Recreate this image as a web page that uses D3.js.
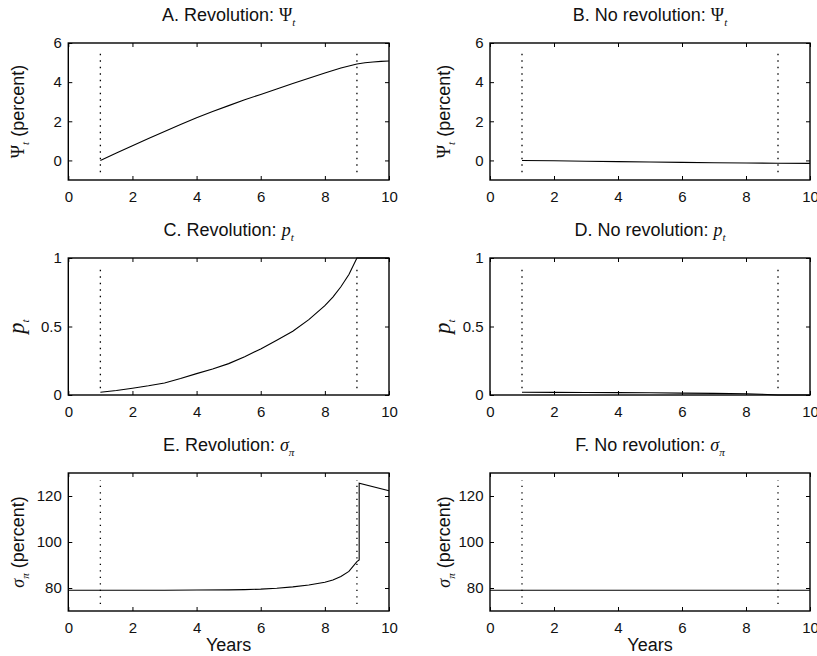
<!DOCTYPE html>
<html>
<head>
<meta charset="utf-8">
<script src="https://cdn.jsdelivr.net/npm/d3@7"></script>
<style>
  html, body { margin: 0; padding: 0; background: #fff; }
  svg { display: block; }
</style>
</head>
<body>
<svg id="chart" width="817" height="656"></svg>
<script>
// ---------------- DATA ----------------
const xTicks = [0, 2, 4, 6, 8, 10];
const markerYears = [1, 9];            // dotted vertical lines

// Panel A: Revolution, Psi_t (percent)
const yearsA = [1, 1.5, 2, 2.5, 3, 3.5, 4, 4.5, 5, 5.5, 6, 6.5, 7, 7.5, 8, 8.5, 9, 9.25, 9.5, 9.75, 10];
const psiRev = [0, 0.38, 0.75, 1.12, 1.48, 1.83, 2.18, 2.5, 2.8, 3.1, 3.37, 3.65, 3.93, 4.2, 4.47, 4.72, 4.93, 4.99, 5.03, 5.06, 5.08];

// Panel B: No revolution, Psi_t (percent)
const yearsB = [1, 2, 3, 4, 5, 6, 7, 8, 9, 10];
const psiNoRev = [0, -0.02, -0.04, -0.06, -0.08, -0.10, -0.115, -0.13, -0.145, -0.15];

// Panel C: Revolution, p_t
const yearsC = [1, 1.5, 2, 2.5, 3, 3.5, 4, 4.5, 5, 5.5, 6, 6.5, 7, 7.5, 8, 8.25, 8.5, 8.75, 9, 9.5, 10];
const pRev = [0.02, 0.033, 0.049, 0.067, 0.088, 0.12, 0.156, 0.19, 0.229, 0.28, 0.336, 0.40, 0.465, 0.55, 0.652, 0.715, 0.79, 0.88, 1.0, 1.0, 1.0];

// Panel D: No revolution, p_t
const yearsD = [1, 2, 3, 4, 5, 6, 7, 8, 8.5, 9, 10];
const pNoRev = [0.02, 0.019, 0.018, 0.017, 0.016, 0.014, 0.012, 0.009, 0.005, 0.0, 0.0];

// Panel E: Revolution, sigma_pi (percent)
const yearsE = [0, 1, 2, 3, 4, 5, 5.5, 6, 6.5, 7, 7.5, 8, 8.25, 8.5, 8.75, 9, 9.07, 9.07, 10];
const sigmaRev = [79, 79, 79, 79, 79.1, 79.2, 79.3, 79.5, 79.9, 80.5, 81.3, 82.5, 83.5, 85, 87.2, 91.5, 92.2, 125.6, 122.3];

// Panel F: No revolution, sigma_pi (percent)
const yearsF = [0, 2, 4, 6, 8, 9, 10];
const sigmaNoRev = [79, 79, 79, 79, 79, 79, 79];

// Y domains / ticks
const yDomainPsi = [-1, 6],  yTicksPsi = [0, 2, 4, 6];
const yDomainP = [0, 1],     yTicksP = [0, 0.5, 1];
const yDomainSig = [70, 130], yTicksSig = [80, 100, 120];

// Extents of the dotted marker lines (data units)
const markerExtentPsi = [-0.6, 5.65];
const markerExtentP = [0.05, 0.95];
const markerExtentSig = [73, 127];

// Texts
const titles = [
  [["A. Revolution: ", "sans"], ["Ψ", "serif"], ["t", "it", "sub"]],
  [["B. No revolution: ", "sans"], ["Ψ", "serif"], ["t", "it", "sub"]],
  [["C. Revolution: ", "sans"], ["p", "it"], ["t", "it", "sub"]],
  [["D. No revolution: ", "sans"], ["p", "it"], ["t", "it", "sub"]],
  [["E. Revolution: ", "sans"], ["σ", "it"], ["π", "it", "sub"]],
  [["F. No revolution: ", "sans"], ["σ", "it"], ["π", "it", "sub"]]
];
const yLabelPsi = [["Ψ", "serif"], ["t", "it", "sub"], [" (percent)", "sans"]];
const yLabelP = [["p", "it", "big"], ["t", "it", "sub"]];
const yLabelSig = [["σ", "it"], ["π", "it", "sub"], [" (percent)", "sans"]];
const xLabelText = "Years";

// ---------------- LAYOUT ----------------
const cols = [{x0: 68.3, x1: 389, labelOff: 50}, {x0: 490, x1: 810, labelOff: 46}];
const rows = [{y0: 43, y1: 180}, {y0: 258, y1: 395}, {y0: 473, y1: 611}];
const SANS = "Liberation Sans, Arial, Helvetica, sans-serif";
const SERIF = "Liberation Serif, Times New Roman, serif";
const TICK_FS = 15, TITLE_FS = 18;

const panels = [
  {row: 0, col: 0, xs: yearsA, ys: psiRev, dom: yDomainPsi, ticks: yTicksPsi, mk: markerExtentPsi, title: titles[0], ylab: yLabelPsi},
  {row: 0, col: 1, xs: yearsB, ys: psiNoRev, dom: yDomainPsi, ticks: yTicksPsi, mk: markerExtentPsi, title: titles[1], ylab: yLabelPsi},
  {row: 1, col: 0, xs: yearsC, ys: pRev, dom: yDomainP, ticks: yTicksP, mk: markerExtentP, title: titles[2], ylab: yLabelP},
  {row: 1, col: 1, xs: yearsD, ys: pNoRev, dom: yDomainP, ticks: yTicksP, mk: markerExtentP, title: titles[3], ylab: yLabelP},
  {row: 2, col: 0, xs: yearsE, ys: sigmaRev, dom: yDomainSig, ticks: yTicksSig, mk: markerExtentSig, title: titles[4], ylab: yLabelSig, xlab: true},
  {row: 2, col: 1, xs: yearsF, ys: sigmaNoRev, dom: yDomainSig, ticks: yTicksSig, mk: markerExtentSig, title: titles[5], ylab: yLabelSig, xlab: true}
];

const svg = d3.select("#chart");

function richText(sel, parts, fs) {
  let shifted = 0;
  parts.forEach(([t, f, mod]) => {
    const ts = sel.append("tspan").text(t);
    let size = fs;
    if (f === "sans") ts.attr("font-family", SANS);
    else if (f === "serif") ts.attr("font-family", SERIF);
    else ts.attr("font-family", SERIF).attr("font-style", "italic");
    if (mod === "sub") size = fs * 0.62;
    if (mod === "big") size = fs * 1.25;
    ts.attr("font-size", size);
    const want = mod === "sub" ? fs * 0.3 : 0;
    if (want !== shifted) { ts.attr("dy", want - shifted); shifted = want; }
  });
}

panels.forEach(p => {
  const c = cols[p.col], r = rows[p.row];
  const x = d3.scaleLinear().domain([0, 10]).range([c.x0, c.x1]);
  const y = d3.scaleLinear().domain(p.dom).range([r.y1, r.y0]);
  const g = svg.append("g");

  // axes with inward ticks
  const ax = g.append("g").attr("transform", `translate(0,${r.y1})`)
    .call(d3.axisBottom(x).tickValues(xTicks).tickSize(-4).tickPadding(11).tickFormat(d3.format("d")));
  const axT = g.append("g").attr("transform", `translate(0,${r.y0})`)
    .call(d3.axisTop(x).tickValues(xTicks).tickSize(-4).tickFormat(""));
  const ay = g.append("g").attr("transform", `translate(${c.x0},0)`)
    .call(d3.axisLeft(y).tickValues(p.ticks).tickSize(-4).tickPadding(6.5).tickFormat(d => String(d)));
  const ayR = g.append("g").attr("transform", `translate(${c.x1},0)`)
    .call(d3.axisRight(y).tickValues(p.ticks).tickSize(-4).tickFormat(""));
  [ax, axT, ay, ayR].forEach(a => {
    a.select(".domain").remove();
    a.selectAll("line").attr("stroke", "#000").attr("stroke-width", 1);
    a.selectAll("text").attr("font-family", SANS).attr("font-size", TICK_FS).attr("fill", "#111");
  });

  // dotted marker lines
  g.selectAll(".mk").data(markerYears).enter().append("line")
    .attr("x1", d => x(d)).attr("x2", d => x(d))
    .attr("y1", y(p.mk[0])).attr("y2", y(p.mk[1]))
    .attr("stroke", "#000").attr("stroke-width", 1.3)
    .attr("stroke-dasharray", "1.3,5.2");

  // data line
  const line = d3.line().x(d => x(d[0])).y(d => y(d[1]));
  g.append("path").datum(p.xs.map((v, i) => [v, p.ys[i]]))
    .attr("d", line).attr("fill", "none").attr("stroke", "#000").attr("stroke-width", 1.1);

  // box
  g.append("rect").attr("x", c.x0).attr("y", r.y0)
    .attr("width", c.x1 - c.x0).attr("height", r.y1 - r.y0)
    .attr("fill", "none").attr("stroke", "#000").attr("stroke-width", 1.4);

  // title
  const tt = g.append("text").attr("x", (c.x0 + c.x1) / 2).attr("y", r.y0 - 22)
    .attr("text-anchor", "middle").attr("fill", "#111");
  richText(tt, p.title, TITLE_FS);

  // y label
  const cy = (r.y0 + r.y1) / 2;
  const lx = c.x0 - c.labelOff;
  const yl = g.append("text").attr("transform", `translate(${lx},${cy}) rotate(-90)`)
    .attr("text-anchor", "middle").attr("dy", "0.35em").attr("fill", "#111");
  richText(yl, p.ylab, TITLE_FS);

  // x label
  if (p.xlab) {
    g.append("text").attr("x", (c.x0 + c.x1) / 2).attr("y", r.y1 + 40)
      .attr("text-anchor", "middle").attr("font-family", SANS)
      .attr("font-size", TITLE_FS).attr("fill", "#111").text(xLabelText);
  }
});
</script>
</body>
</html>
